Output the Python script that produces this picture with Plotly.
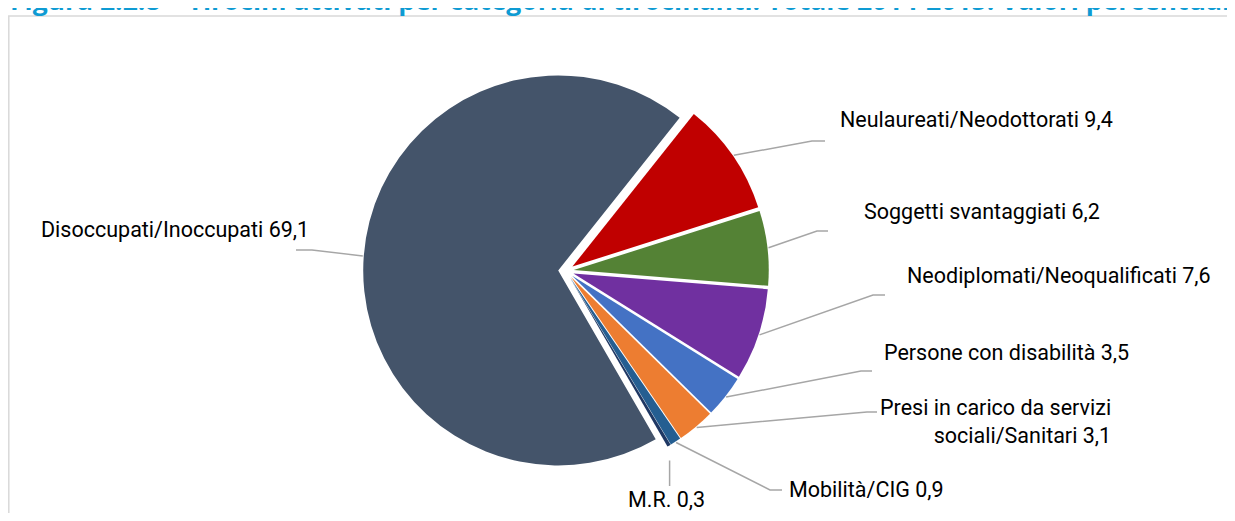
import math
import plotly.graph_objects as go

# page body has an 8px margin, so the figure is inset and sized to fit
PAD = 8
VIEW_W, VIEW_H = 1235, 521
W, H = VIEW_W - 2 * PAD, VIEW_H - 2 * PAD

# data
categories = [
    "Disoccupati/Inoccupati",
    "Neulaureati/Neodottorati",
    "Soggetti svantaggiati",
    "Neodiplomati/Neoqualificati",
    "Persone con disabilità",
    "Presi in carico da servizi sociali/Sanitari",
    "Mobilità/CIG",
    "M.R.",
]
values = [69.1, 9.4, 6.2, 7.6, 3.5, 3.1, 0.9, 0.3]
label_texts = [
    "Disoccupati/Inoccupati 69,1",
    "Neulaureati/Neodottorati 9,4",
    "Soggetti svantaggiati 6,2",
    "Neodiplomati/Neoqualificati 7,6",
    "Persone con disabilità 3,5",
    "Presi in carico da servizi<br>sociali/Sanitari 3,1",
    "Mobilità/CIG 0,9",
    "M.R. 0,3",
]
colors = ["#44546A", "#C00000", "#548235", "#7030A0", "#4472C4",
          "#ED7D31", "#255E91", "#1F3864"]

title = ("Figura 2.2.8 – Tirocini attivati per categoria di tirocinanti. "
         "Totale 2014-2015. Valori percentuali")

# pie geometry (screen pixels)
cx, cy, r, pull, rotation = 566, 271, 195, 0.04, 150
box = r * (1 + pull)

# label layout: (x, y, xanchor, elbow, end) in screen pixels
label_pos = [
    (311, 229, "right", (312, 250), (296, 250)),
    (838, 119, "left", (812, 141), (825, 141)),
    (862, 211, "left", (817, 231), (828, 231)),
    (905, 275, "left", (873, 295), (885, 295)),
    (882, 352, "left", (861, 371), (872, 371)),
    (1113, 421, "right", (867, 412), (877, 412)),
    (787, 489, "left", (770, 490), (782, 490)),
    (666, 499, "center", None, (None, 486)),
]

font_family = "Liberation Sans Narrow, Roboto, Arial"

fig = go.Figure()

fig.add_trace(go.Pie(
    labels=categories,
    values=values,
    sort=False,
    direction="clockwise",
    rotation=rotation,
    pull=pull,
    marker=dict(colors=colors, line=dict(color="white", width=0)),
    textinfo="none",
    hoverinfo="label+value",
    showlegend=False,
    domain=dict(x=[(cx - PAD - box) / W, (cx - PAD + box) / W],
                y=[(H - (cy - PAD) - box) / H, (H - (cy - PAD) + box) / H]),
))

# invisible axes spanning the figure in screen pixels
fig.add_trace(go.Scatter(x=[PAD], y=[PAD], mode="markers",
                         marker=dict(opacity=0), hoverinfo="skip",
                         showlegend=False))

total = sum(values)
acc = 0
for v, txt, (lx, ly, anchor, elbow, end) in zip(values, label_texts, label_pos):
    mid = rotation + (acc + v / 2) / total * 360
    acc += v
    a = math.radians(mid)
    sx = cx + (box + 1) * math.sin(a)
    sy = cy - (box + 1) * math.cos(a)
    if elbow is None:
        pts = [(sx, sy + 14), (sx, end[1])]
    else:
        pts = [(sx, sy), elbow, end]
    path = "M " + " L ".join(f"{px:.1f},{py:.1f}" for px, py in pts)
    fig.add_shape(type="path", path=path, xref="x", yref="y",
                  line=dict(color="#A6A6A6", width=1.5))
    fig.add_annotation(x=lx, y=ly, xref="x", yref="y", text=txt,
                       showarrow=False, xanchor=anchor, yanchor="middle",
                       align=anchor,
                       font=dict(family=font_family, size=21.5,
                                 color="#000000"))

# chart frame (left and top edges; the rest runs off the page)
fig.add_shape(type="path", path="M 8.8,600 L 8.8,16 L 1300,16",
              xref="x", yref="y", line=dict(color="#D9D9D9", width=1.5),
              layer="below")

# title, partially cut off at the top like the source
fig.add_annotation(x=8, y=20.5, xref="x", yref="y", text=f"<b>{title}</b>",
                   showarrow=False, xanchor="left", yanchor="bottom",
                   font=dict(family="Open Sans, Arial", size=26.5,
                             color="#0E9BD3"))

fig.update_xaxes(range=[PAD, PAD + W], visible=False, fixedrange=True)
fig.update_yaxes(range=[PAD + H, PAD], visible=False, fixedrange=True)

fig.update_layout(
    width=W, height=H,
    margin=dict(l=0, r=0, t=0, b=0),
    paper_bgcolor="white",
    plot_bgcolor="rgba(0,0,0,0)",
    showlegend=False,
)

fig.write_html("out.html")
